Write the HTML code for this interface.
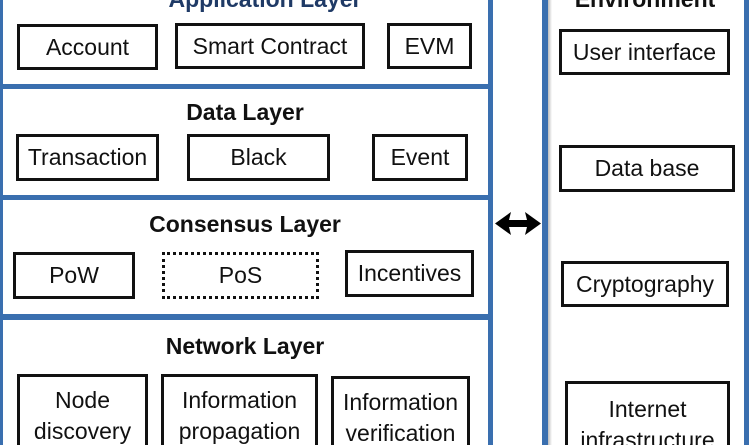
<!DOCTYPE html>
<html style="overflow:hidden;width:751px;height:445px"><head><meta charset="utf-8"><style>
html,body{margin:0;padding:0}
body{width:751px;height:445px;overflow:hidden;background:#fff;position:relative;font-family:"Liberation Sans",Arial,sans-serif;color:#111}
.a{position:absolute;box-sizing:border-box}
.bl{background:#3a6faf}
.b{position:absolute;box-sizing:border-box;border:3px solid #111;display:flex;align-items:center;justify-content:center;text-align:center;font-size:23px;line-height:31px;background:#fff;white-space:nowrap}
.t{position:absolute;font-weight:bold;font-size:23px;text-align:center;width:400px}
</style></head><body>
<div class="a bl" style="left:0;top:0;width:3px;height:445px"></div>
<div class="a bl" style="left:488px;top:0;width:5px;height:445px"></div>
<div class="a bl" style="left:0;top:84px;width:493px;height:5px"></div>
<div class="a bl" style="left:0;top:195px;width:493px;height:5px"></div>
<div class="a bl" style="left:0;top:314px;width:493px;height:6px"></div>
<div class="a" style="left:548px;top:0;width:4px;height:445px;background:linear-gradient(to right,#bbb,#fff)"></div>
<div class="a bl" style="left:542px;top:0;width:6px;height:445px"></div>
<div class="a bl" style="left:744px;top:0;width:5px;height:445px"></div>

<div class="t" style="left:65px;top:-14px;color:#1f3a66">Application Layer</div>
<div class="t" style="left:45px;top:99px">Data Layer</div>
<div class="t" style="left:45px;top:211px">Consensus Layer</div>
<div class="t" style="left:45px;top:333px">Network Layer</div>
<div class="t" style="left:445px;top:-14px">Environment</div>

<div class="b" style="left:17px;top:24px;width:141px;height:46px">Account</div>
<div class="b" style="left:175px;top:23px;width:190px;height:46px">Smart Contract</div>
<div class="b" style="left:387px;top:23px;width:85px;height:46px">EVM</div>

<div class="b" style="left:16px;top:134px;width:143px;height:47px">Transaction</div>
<div class="b" style="left:187px;top:134px;width:143px;height:47px">Black</div>
<div class="b" style="left:372px;top:134px;width:96px;height:47px">Event</div>

<div class="b" style="left:13px;top:252px;width:122px;height:47px">PoW</div>
<div class="b" style="left:162px;top:252px;width:157px;height:47px;border-style:dotted">PoS</div>
<div class="b" style="left:345px;top:250px;width:129px;height:47px">Incentives</div>

<div class="b" style="left:17px;top:374px;width:131px;height:71px;border-bottom:none;align-items:flex-start;padding-top:8px">Node<br>discovery</div>
<div class="b" style="left:161px;top:374px;width:157px;height:71px;border-bottom:none;align-items:flex-start;padding-top:8px">Information<br>propagation</div>
<div class="b" style="left:331px;top:376px;width:139px;height:69px;border-bottom:none;align-items:flex-start;padding-top:8px">Information<br>verification</div>

<div class="b" style="left:559px;top:29px;width:171px;height:46px">User interface</div>
<div class="b" style="left:559px;top:145px;width:176px;height:47px">Data base</div>
<div class="b" style="left:561px;top:261px;width:168px;height:46px">Cryptography</div>
<div class="b" style="left:565px;top:381px;width:165px;height:64px;border-bottom:none;align-items:flex-start;padding-top:10px">Internet<br>infrastructure</div>

<svg class="a" style="left:494px;top:211px" width="48" height="25" viewBox="0 0 48 25">
<polygon points="1,12.5 17,1 15,9 33,9 31,1 47,12.5 31,24 33,16 15,16 17,24" fill="#000"/>
</svg>
</body></html>
